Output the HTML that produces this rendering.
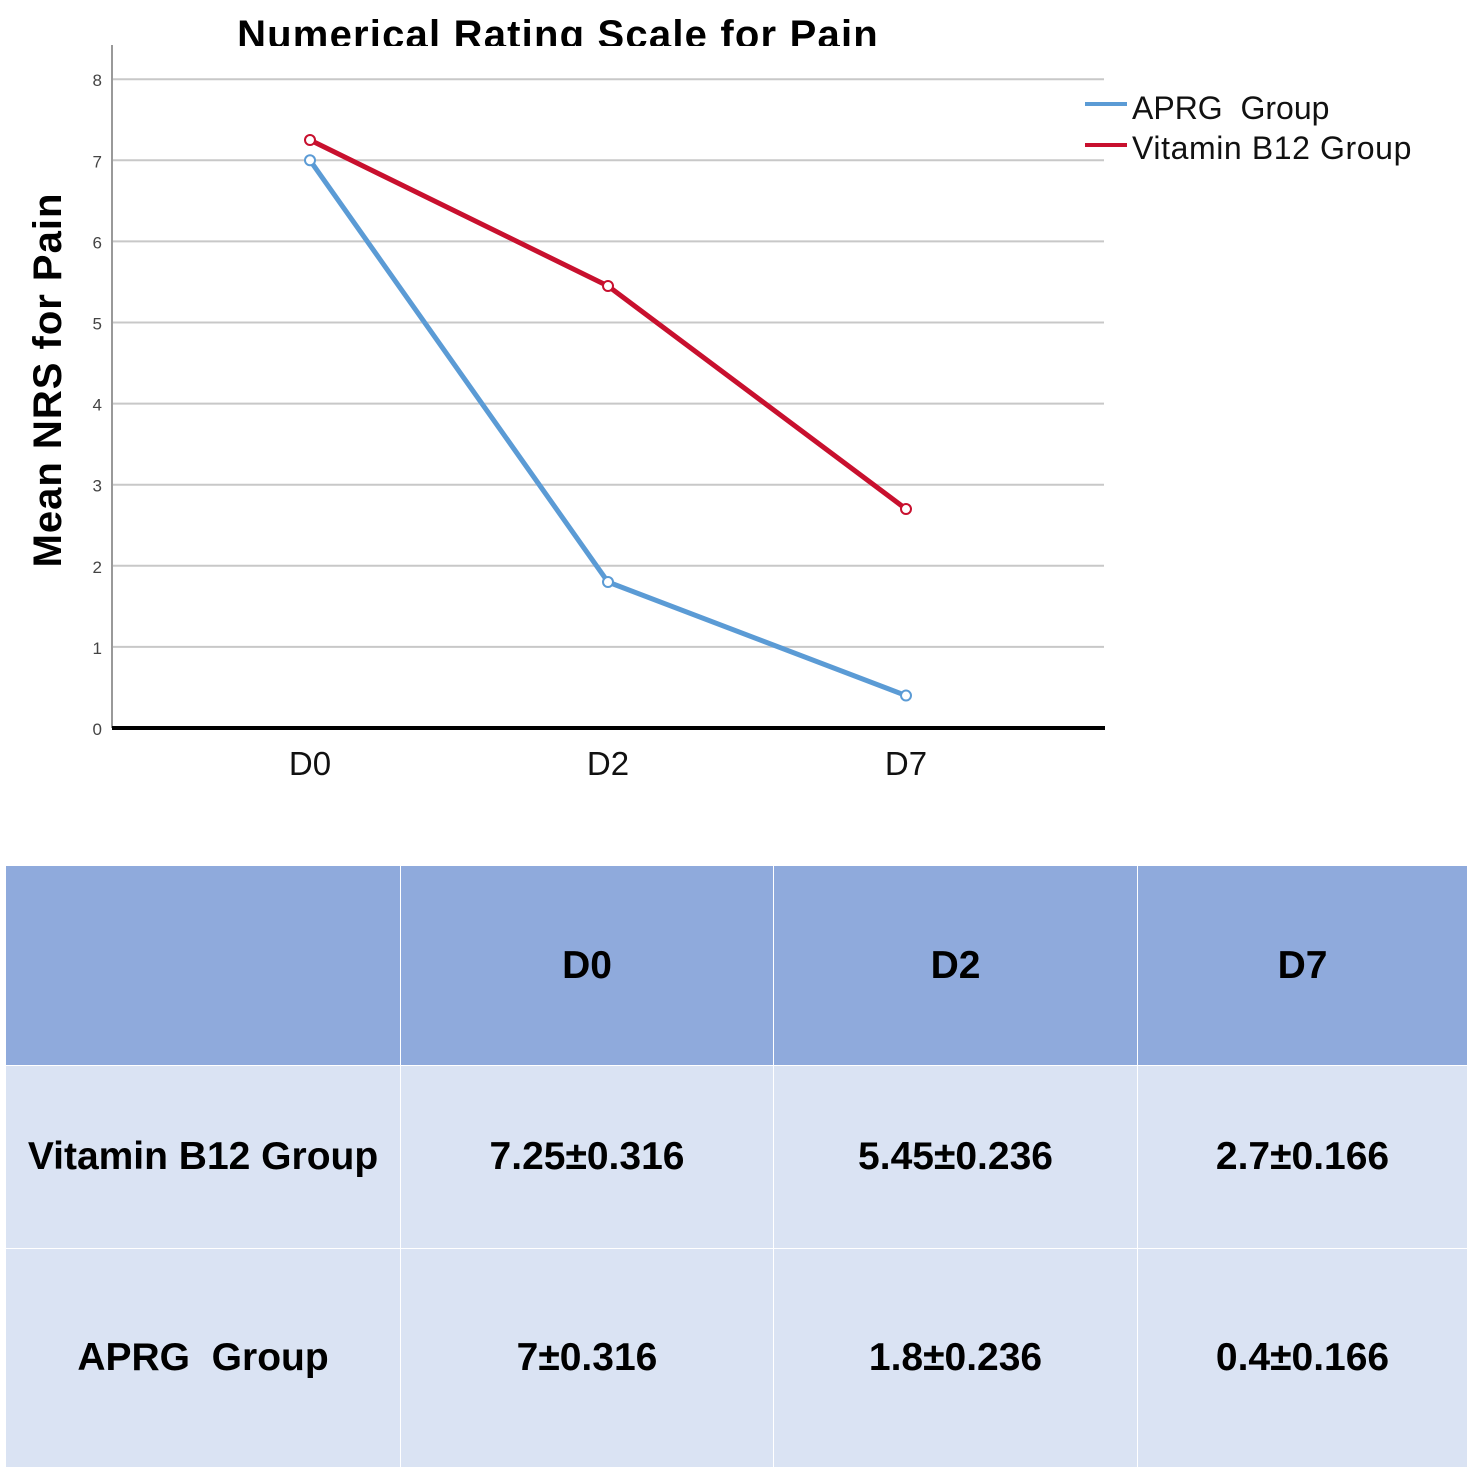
<!DOCTYPE html>
<html><head><meta charset="utf-8"><style>
body{margin:0;background:#fff;width:1471px;height:1471px;overflow:hidden;position:relative;font-family:"Liberation Sans",sans-serif}
#chart{position:absolute;left:0;top:0}
table{position:absolute;left:5px;top:865px;border-collapse:collapse;font-family:"Liberation Sans",sans-serif;font-weight:bold;font-size:39px;color:#000}
td{border:1px solid #fff;text-align:center;padding:0;white-space:pre}
.h td{background:#8faadc;height:199px}
.r td{background:#dae3f3}
</style></head><body>
<svg id="chart" width="1471" height="860">
<defs><clipPath id="tc"><rect x="0" y="0" width="1471" height="46"/></clipPath></defs>
<text x="558" y="48" font-size="40" font-weight="bold" letter-spacing="1.2" text-anchor="middle" clip-path="url(#tc)">Numerical Rating Scale for Pain</text>
<text transform="translate(61,380) rotate(-90)" font-size="40" font-weight="bold" letter-spacing="1" text-anchor="middle">Mean NRS for Pain</text>
<g id="grid"></g><g id="series"></g>
<g>
<line x1="1085" y1="104" x2="1127" y2="104" stroke="#5b9bd5" stroke-width="4"/>
<text x="1132" y="119" font-size="32" fill="#111" xml:space="preserve">APRG  Group</text>
<line x1="1085" y1="145" x2="1127" y2="145" stroke="#c8102e" stroke-width="4"/>
<text x="1132" y="159" font-size="32" letter-spacing="0.6" fill="#111">Vitamin B12 Group</text>
</g>
</svg>
<table>
<tr class="h"><td style="width:394px"></td><td style="width:372px">D0</td><td style="width:363px">D2</td><td style="width:329px">D7</td></tr>
<tr class="r" style="height:183px"><td>Vitamin B12 Group</td><td>7.25±0.316</td><td>5.45±0.236</td><td>2.7±0.166</td></tr>
<tr class="r" style="height:219px"><td>APRG  Group</td><td>7±0.316</td><td>1.8±0.236</td><td>0.4±0.166</td></tr>
</table>
<script>
const categories=["D0","D2","D7"];
const aprgValues=[7,1.8,0.4];
const b12Values=[7.25,5.45,2.7];
const yTicks=[0,1,2,3,4,5,6,7,8];
const NS="http://www.w3.org/2000/svg";
const y=v=>728-v*81.1;
const x=i=>310+i*298;
function mk(p,t,a){const e=document.createElementNS(NS,t);for(const k in a)e.setAttribute(k,a[k]);p.appendChild(e);return e;}
const g=document.getElementById('grid');
yTicks.forEach(v=>{
 if(v>0){const l=mk(g,'line',{x1:112,x2:1104,y1:y(v),y2:y(v),stroke:'#c8c8c8','stroke-width':2});
 
 }
 const t=mk(g,'text',{x:102,y:y(v)+7,'font-size':17,'text-anchor':'end',fill:'#444'});t.textContent=v;
 
 
});
const ax=mk(g,'line',{x1:112,x2:112,y1:45,y2:728,stroke:'#999','stroke-width':2});


const xa=mk(g,'line',{x1:112,x2:1105,y1:728,y2:728,stroke:'#000','stroke-width':4});


categories.forEach((c,i)=>{const t=mk(g,'text',{x:x(i),y:775,'font-size':33,'text-anchor':'middle',fill:'#111'});t.textContent=c;
 
 });
const s=document.getElementById('series');
[[b12Values,'#c8102e','b12'],[aprgValues,'#5b9bd5','aprg']].forEach(([vals,col,n])=>{
 const pl=mk(s,'polyline',{points:vals.map((v,i)=>x(i)+','+y(v)).join(' '),fill:'none',stroke:col,'stroke-width':5});
 
 
 vals.forEach((v,i)=>{const c=mk(s,'circle',{cx:x(i),cy:y(v),r:5,fill:'#fff',stroke:col,'stroke-width':2});
 
 });
});
</script>
</body></html>
